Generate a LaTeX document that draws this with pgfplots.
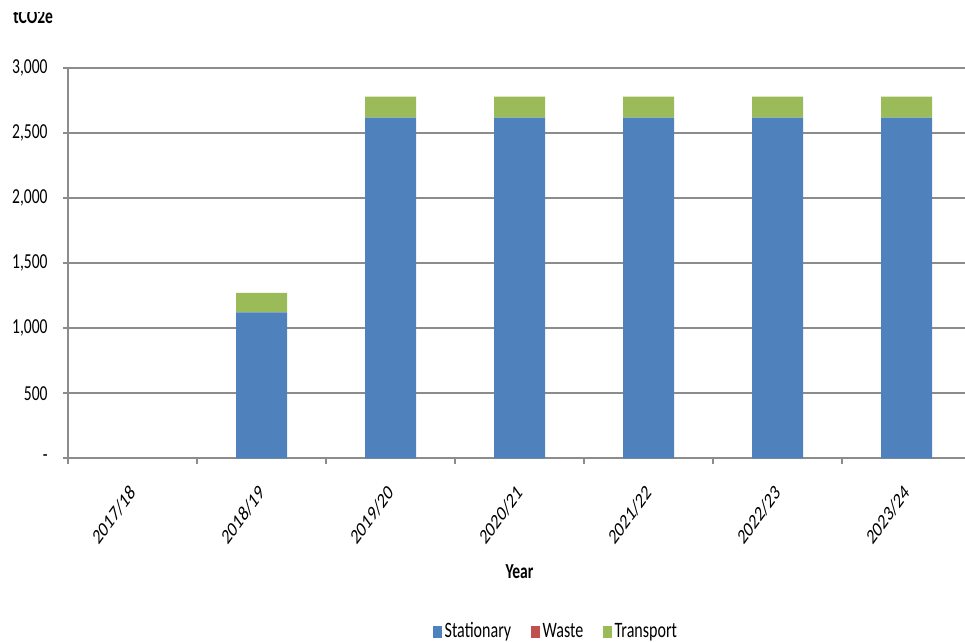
\documentclass[border=0pt]{standalone}
\usepackage{fontspec}
\setmainfont[FakeStretch=0.73]{Carlito}
\newfontfamily\plainfont{Carlito}
\usepackage{graphicx}
\usepackage{pgfplots}
\pgfplotsset{compat=1.18}
\definecolor{cStat}{RGB}{79,129,189}
\definecolor{cWaste}{RGB}{192,80,77}
\definecolor{cTrans}{RGB}{155,187,89}
\definecolor{cGrid}{RGB}{140,140,140}
\newcommand\rl[1]{\scalebox{0.73}[1]{\rotatebox{45}{\plainfont\fontsize{16}{19}\selectfont #1}}}
\begin{document}
\fontsize{16}{19}\selectfont
\begin{tikzpicture}[x=1pt,y=1pt]
\clip (0,0) rectangle (723.75,481.5);
\path[use as bounding box] (0,0) rectangle (723.75,481.5);
\begin{axis}[
 at={(51pt,137.8pt)}, anchor=south west,
 scale only axis, width=677.25pt, height=292.5pt,
 xmin=-0.5, xmax=6.5, ymin=0, ymax=3000,
 ybar stacked, bar width=38.25pt,
 axis x line*=bottom, axis y line*=left,
 axis line style={draw=cGrid, line width=1.2pt},
 ymajorgrids, grid style={draw=cGrid, line width=1.2pt},
 tick align=outside,
 ytick={0,500,1000,1500,2000,2500,3000},
 yticklabels={-,500,{1,000},{1,500},{2,000},{2,500},{3,000}},
 major tick length=3.75pt, minor tick length=4.5pt,
 tick style={draw=cGrid, line width=1.2pt},
 major x tick style={draw=none},
 xtick={0,1,2,3,4,5,6},
 minor xtick={-0.5,0.5,1.5,2.5,3.5,4.5,5.5,6.5},
 xticklabels={\rl{2017/18},\rl{2018/19},\rl{2019/20},\rl{2020/21},\rl{2021/22},\rl{2022/23},\rl{2023/24}},
 xticklabel style={anchor=north east, inner sep=0pt, xshift=3.4pt, yshift=-15pt},
 yticklabel style={xshift=-6pt},
 xlabel={\textbf{Year}},
 xlabel style={at={(axis description cs:0.5,-0.29)}, anchor=center},
 legend style={at={(axis description cs:0.541,-0.445)}, anchor=center, draw=none, fill=none,
   legend columns=3, /tikz/every even column/.append style={column sep=13pt},
   font=\fontsize{16.5}{19}\selectfont},
 legend image code/.code={\fill[#1] (0pt,-4.5pt) rectangle (6.5pt,4.5pt);},
 legend cell align=left,
]
\addplot[fill=cStat, draw=none] coordinates {(0,0) (1,1123) (2,2620) (3,2620) (4,2620) (5,2620) (6,2620)};
\addlegendentry{Stationary}
\addplot[fill=cWaste, draw=none] coordinates {(0,0) (1,0) (2,0) (3,0) (4,0) (5,0) (6,0)};
\addlegendentry{Waste}
\addplot[fill=cTrans, draw=none] coordinates {(0,0) (1,150) (2,162) (3,162) (4,162) (5,162) (6,162)};
\addlegendentry{Transport}
\end{axis}
\begin{scope}
\clip (0,471.75) rectangle (120,440);
\node[anchor=base west, inner sep=0pt] at (9.75,463.5) {\textbf{tCO2e}};
\end{scope}
\end{tikzpicture}
\end{document}
